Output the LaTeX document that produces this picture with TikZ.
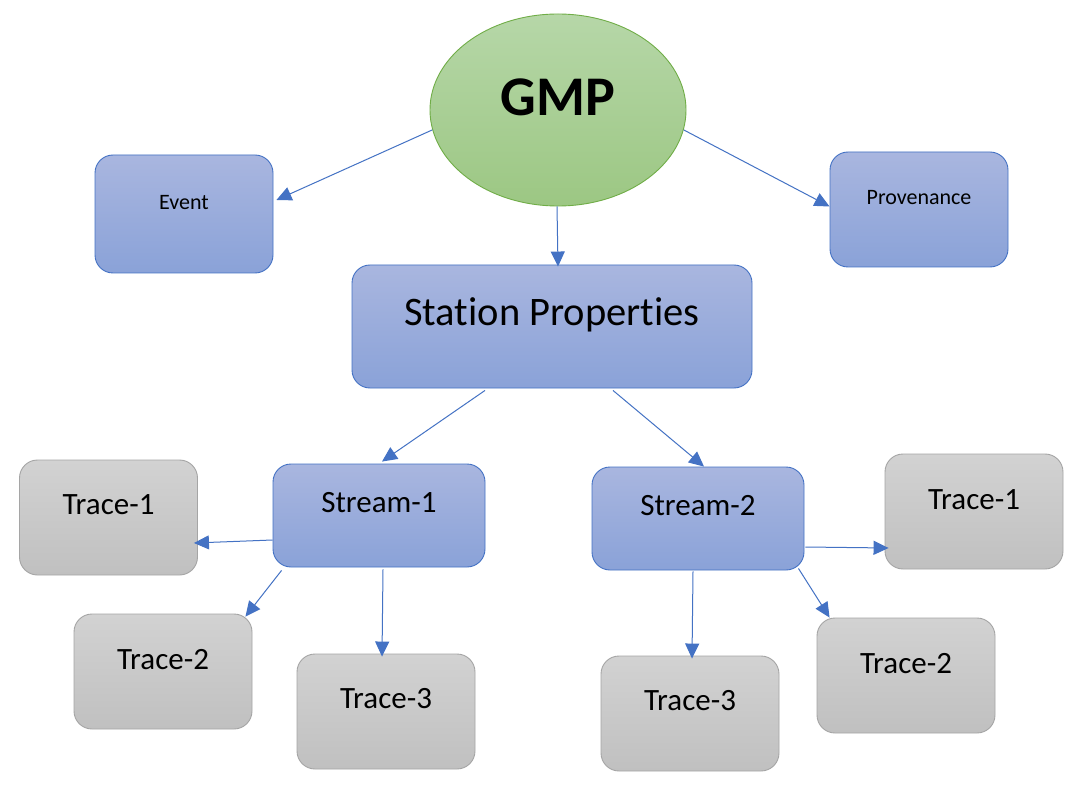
\documentclass[tikz,border=0pt]{standalone}
\usepackage{fontspec}
\setmainfont{Carlito}[RawFeature={-liga}]
\usetikzlibrary{arrows.meta,shapes.geometric}
\definecolor{bluetop}{RGB}{169,182,223}
\definecolor{bluebot}{RGB}{138,162,216}
\definecolor{blueline}{RGB}{68,114,196}
\definecolor{graytop}{RGB}{210,210,210}
\definecolor{graybot}{RGB}{192,192,192}
\definecolor{grayline}{RGB}{165,165,165}
\definecolor{greentop}{RGB}{182,215,168}
\definecolor{greenbot}{RGB}{156,199,131}
\definecolor{greenline}{RGB}{112,173,71}
\tikzset{
  box/.style={rectangle, rounded corners=18pt, inner sep=0pt, line width=0.9pt},
  bluebox/.style={box, draw=blueline, top color=bluetop, bottom color=bluebot},
  graybox/.style={box, draw=grayline, top color=graytop, bottom color=graybot, minimum width=178pt, minimum height=115pt},
  conn/.style={draw=blueline, line width=1pt, -{Triangle[length=15pt,width=14pt]}},
  small/.style={font=\fontsize{22}{26}\selectfont},
  mid/.style={font=\fontsize{31}{36}\selectfont},
  big/.style={font=\fontsize{40.5}{46}\selectfont},
}
\begin{document}
\begin{tikzpicture}[x=1pt,y=-1pt]
\useasboundingbox[fill=white] (0,0) rectangle (1078,791);
% nodes
\node[ellipse, draw=greenline, line width=0.9pt, top color=greentop, bottom color=greenbot,
      minimum width=256pt, minimum height=192pt, inner sep=0pt,
      label={[yshift=13pt, font=\fontsize{56}{60}\selectfont\bfseries]center:GMP}] (gmp) at (558,110) {};
\node[bluebox, minimum width=178pt, minimum height=118pt,
      label={[yshift=11pt, small]center:Event}] (ev) at (184,214) {};
\node[bluebox, minimum width=178pt, minimum height=115pt,
      label={[yshift=11.5pt, small]center:Provenance}] (prov) at (919,209.5) {};
\node[bluebox, minimum width=400pt, minimum height=123pt,
      label={[yshift=11.5pt, big]center:Station Properties}] (sp) at (552,326.5) {};
\node[bluebox, minimum width=212pt, minimum height=103pt,
      label={[yshift=12.5pt, mid]center:Stream-1}] (s1) at (379,515.5) {};
\node[bluebox, minimum width=212pt, minimum height=103pt,
      label={[yshift=12.5pt, mid]center:Stream-2}] (s2) at (698,518.5) {};
\node[graybox, label={[yshift=12.5pt, mid]center:Trace-1}] (t1L) at (108.5,517.5) {};
\node[graybox, label={[yshift=11.5pt, mid]center:Trace-2}] (t2L) at (163,671.5) {};
\node[graybox, label={[yshift=12.5pt, mid]center:Trace-3}] (t3L) at (386,711.5) {};
\node[graybox, label={[yshift=11.5pt, mid]center:Trace-1}] (t1R) at (974,511.5) {};
\node[graybox, label={[yshift=11.5pt, mid]center:Trace-2}] (t2R) at (906,675.5) {};
\node[graybox, label={[yshift=12.5pt, mid]center:Trace-3}] (t3R) at (690,713.5) {};
% connectors
\draw[conn] (gmp.189) -- ([xshift=3pt,yshift=14pt]ev.east);
\draw[conn] (gmp.-9) -- ([yshift=3pt]prov.west);
\draw[conn] ([xshift=-1pt]gmp.south) -- ([xshift=6pt,yshift=-2pt]sp.north);
\draw[conn] ([xshift=-67pt,yshift=-2pt]sp.south) -- ([xshift=3pt,yshift=2pt]s1.north);
\draw[conn] ([xshift=61pt,yshift=-2pt]sp.south) -- ([xshift=6pt]s2.north);
\draw[conn] ([yshift=-24.5pt]s1.west) -- ([xshift=-4pt,yshift=-25.5pt]t1L.east);
\draw[conn] ([xshift=9pt,yshift=-3pt]s1.south west) -- ([xshift=-7pt,yshift=-3pt]t2L.north east);
\draw[conn] ([xshift=4pt,yshift=-2pt]s1.south) -- ([xshift=-4pt,yshift=-3pt]t3L.north);
\draw[conn] ([xshift=1pt,yshift=-28.5pt]s2.east) -- ([xshift=4pt,yshift=-36.5pt]t1R.west);
\draw[conn] ([xshift=-6pt,yshift=2pt]s2.south east) -- ([xshift=13pt]t2R.north west);
\draw[conn] ([xshift=-5pt,yshift=-1pt]s2.south) -- ([xshift=2pt,yshift=-3pt]t3R.north);
\end{tikzpicture}
\end{document}
